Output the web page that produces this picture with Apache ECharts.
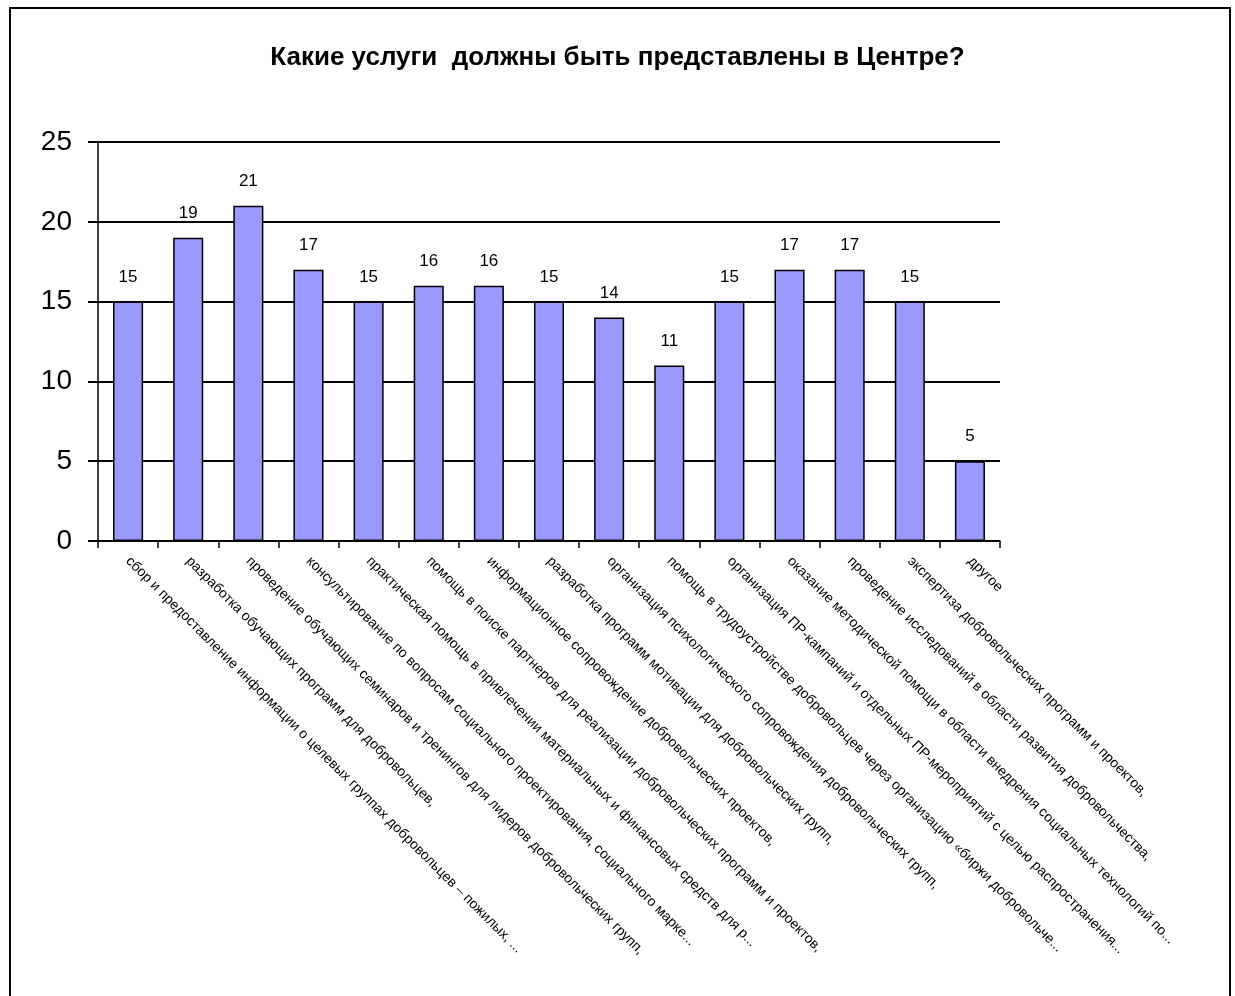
<!DOCTYPE html>
<html><head><meta charset="utf-8">
<script src="https://cdn.jsdelivr.net/npm/echarts@6/dist/echarts.min.js"></script>
<style>html,body{margin:0;padding:0;background:#fff}#c{width:1235px;height:996px}</style>
</head><body><div id="c"></div>
<script>
const titleText = "Какие услуги  должны быть представлены в Центре?";
const categories = [
  "сбор и предоставление информации о целевых группах добровольцев – пожилых, ...",
  "разработка обучающих программ для добровольцев,",
  "проведение обучающих семинаров и тренингов для лидеров добровольческих групп,",
  "консультирование по вопросам социального проектирования, социального марке...",
  "практическая помощь в привлечении материальных и финансовых средств для р...",
  "помощь в поиске партнеров для реализации добровольческих программ и проектов,",
  "информационное сопровождение добровольческих проектов,",
  "разработка программ мотивации для добровольческих групп,",
  "организация психологического сопровождения добровольческих групп,",
  "помощь в трудоустройстве добровольцев через организацию «биржи добровольче...",
  "организация ПР-кампаний и отдельных ПР-мероприятий с целью распространения...",
  "оказание методической помощи в области внедрения социальных технологий по...",
  "проведение исследований в области развития добровольчества,",
  "экспертиза добровольческих программ и проектов,",
  "другое"
];
const values = [15, 19, 21, 17, 15, 16, 16, 15, 14, 11, 15, 17, 17, 15, 5];
const yTicks = [0, 5, 10, 15, 20, 25];

const chart = echarts.init(document.getElementById('c'));
chart.setOption({
  animation: false,
  backgroundColor: '#fff',
  title: {
    text: titleText, left: 'center', top: 40,
    textStyle: {fontFamily: 'Liberation Sans, Arial', fontWeight: 'bold', fontSize: 26, color: '#000'}
  },
  graphic: [{type: 'rect', shape: {x: 10, y: 8, width: 1220, height: 1000},
    style: {fill: null, stroke: '#000', lineWidth: 2}, silent: true}],
  grid: {left: 98, right: 235, top: 142, bottom: 455, containLabel: false},
  xAxis: {
    type: 'category', data: categories,
    axisLine: {lineStyle: {color: '#000', width: 1.5}},
    axisTick: {show: true, alignWithLabel: false, length: 7, lineStyle: {color: '#000', width: 1.5}},
    axisLabel: {interval: 0, rotate: -45, margin: 18, color: '#000',
      fontFamily: 'Liberation Sans, Arial', fontSize: 14}
  },
  yAxis: {
    type: 'value', min: yTicks[0], max: yTicks[yTicks.length - 1], interval: 5,
    axisLine: {show: true, lineStyle: {color: '#000', width: 1.5}},
    axisTick: {show: true, length: 10, lineStyle: {color: '#000', width: 2}},
    splitLine: {show: true, lineStyle: {color: '#000', width: 2}},
    axisLabel: {color: '#000', fontFamily: 'Liberation Sans, Arial', fontSize: 28, margin: 26}
  },
  series: [{
    type: 'bar', data: values, barWidth: '50%',
    itemStyle: {color: '#9999FF', borderColor: '#000', borderWidth: 1.5},
    label: {show: true, position: 'top', distance: 16, color: '#000',
      fontFamily: 'Liberation Sans, Arial', fontSize: 17}
  }]
});
</script></body></html>
